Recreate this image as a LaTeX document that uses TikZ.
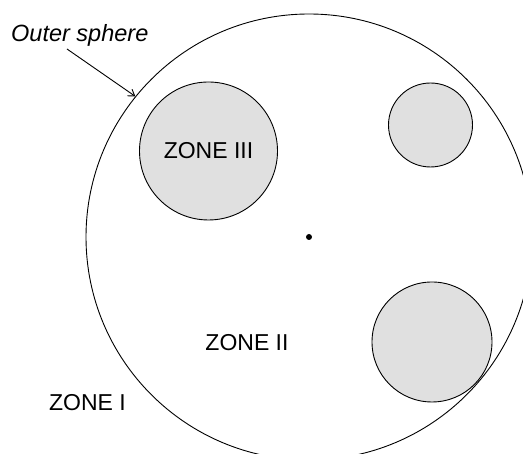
\documentclass[tikz,border=0pt]{standalone}
\usepackage{fontspec}
\setmainfont{Liberation Sans}
\usetikzlibrary{arrows.meta}
\definecolor{zonefill}{RGB}{224,224,224}
\begin{document}
\begin{tikzpicture}[x=1pt,y=1pt,
  sphere/.style={circle,draw=black,line width=0.9pt,inner sep=0pt},
  incl/.style={sphere,fill=zonefill},
  zonetext/.style={inner sep=0pt,font=\fontsize{23}{27}\selectfont},
  pointer/.style={line width=0.9pt,-{Straight Barb[length=6pt,width=8pt]}}]
\useasboundingbox (0,0) rectangle (523,454);
\clip (0,0) rectangle (523,454);
\node[sphere,minimum size=446pt] (outer) at (309,217) {};
\node[incl,minimum size=138pt] (z3) at (208.5,303) {};
\node[incl,minimum size=84pt] (small) at (430.5,329) {};
\node[incl,minimum size=120pt] (big) at (432,112) {};
\fill (309,217) circle (3pt);
\node[zonetext] (t3) at (z3.center) {ZONE III};
\node[zonetext] (t2) at (247,111.5) {ZONE II};
\node[zonetext] (t1) at (87.5,51.5) {ZONE I};
\node[zonetext,font=\fontsize{23.5}{27}\selectfont\itshape,anchor=base west] (lab) at (11,412.5) {Outer sphere};
\coordinate (start) at (67,405);
\draw[pointer] (start) -- (outer.141.7);
\end{tikzpicture}
\end{document}
